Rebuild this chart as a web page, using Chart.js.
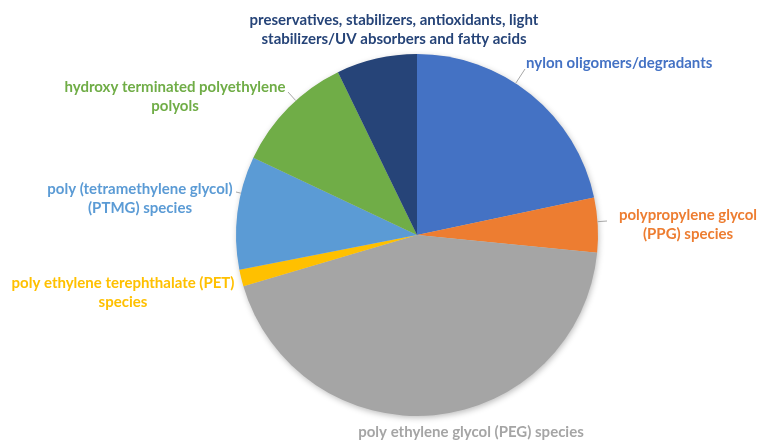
<!DOCTYPE html>
<html>
<head>
<meta charset="utf-8">
<script src="https://cdn.jsdelivr.net/npm/chart.js@4"></script>
<style>
  html, body { margin: 0; padding: 0; background: #ffffff; }
  #wrap { width: 759px; height: 440px; position: relative; }
</style>
</head>
<body>
<div id="wrap"><canvas id="c" width="759" height="440"></canvas></div>
<script>
const categories = [
  "nylon oligomers/degradants",
  "polypropylene glycol (PPG) species",
  "poly ethylene glycol (PEG) species",
  "poly ethylene terephthalate (PET) species",
  "poly (tetramethylene glycol) (PTMG) species",
  "hydroxy terminated polyethylene polyols",
  "preservatives, stabilizers, antioxidants, light stabilizers/UV absorbers and fatty acids"
];
const shares = [21.7, 4.9, 43.9, 1.5, 10.1, 10.8, 7.2];
const sliceColors = ["#4472C4", "#ED7D31", "#A5A5A5", "#FFC000", "#5B9BD5", "#70AD47", "#264478"];

// label text lines (as wrapped in the reference)
const labelLines = [
  ["nylon oligomers/degradants"],
  ["polypropylene glycol", "(PPG) species"],
  ["poly ethylene glycol (PEG) species"],
  ["poly ethylene terephthalate (PET)", "species"],
  ["poly (tetramethylene glycol)", "(PTMG) species"],
  ["hydroxy terminated polyethylene", "polyols"],
  ["preservatives, stabilizers, antioxidants, light", "stabilizers/UV absorbers and fatty acids"]
];

// label placement (layout only)
const labelLayout = [
  { x: 526, y: 63, align: "left", leader: [525, 69] },
  { x: 688, y: 215, align: "center", leader: [607, 221] },
  { x: 471, y: 432, align: "center", leader: null },
  { x: 123, y: 283, align: "center", leader: null },
  { x: 140, y: 189, align: "center", leader: [236, 192] },
  { x: 175, y: 87, align: "center", leader: [288, 92] },
  { x: 394, y: 20, align: "center", leader: null }
];
const lineHeight = 19.5;
const labelFont = "bold 15px Lato, 'Open Sans', sans-serif";

const shadowPlugin = {
  id: "pieShadow",
  beforeDatasetsDraw(chart) {
    const meta = chart.getDatasetMeta(0);
    if (!meta.data.length) return;
    const a = meta.data[0];
    const ctx = chart.ctx;
    ctx.save();
    ctx.shadowColor = "rgba(0,0,0,0.28)";
    ctx.shadowBlur = 6;
    ctx.shadowOffsetX = 1;
    ctx.shadowOffsetY = 2;
    ctx.fillStyle = "#cccccc";
    ctx.beginPath();
    ctx.arc(a.x, a.y, a.outerRadius - 0.5, 0, Math.PI * 2);
    ctx.fill();
    ctx.restore();
  }
};

const labelPlugin = {
  id: "outsideLabels",
  afterDatasetsDraw(chart) {
    const meta = chart.getDatasetMeta(0);
    const ctx = chart.ctx;
    ctx.save();
    meta.data.forEach((arc, i) => {
      const lay = labelLayout[i];
      const color = sliceColors[i];
      if (lay.leader) {
        const [lx, ly] = lay.leader;
        let ang = Math.atan2(ly - arc.y, lx - arc.x);
        let s = arc.startAngle, e = arc.endAngle;
        while (ang < s) ang += Math.PI * 2;
        while (ang > s + Math.PI * 2) ang -= Math.PI * 2;
        if (ang > e) {
          const dE = ang - e, dS = s + Math.PI * 2 - ang;
          ang = dE < dS ? e : s;
        }
        const ex = arc.x + Math.cos(ang) * arc.outerRadius;
        const ey = arc.y + Math.sin(ang) * arc.outerRadius;
        ctx.strokeStyle = "#A6A6A6";
        ctx.lineWidth = 1;
        ctx.beginPath();
        ctx.moveTo(lx, ly);
        ctx.lineTo(ex, ey);
        ctx.stroke();
      }
      ctx.fillStyle = color;
      ctx.font = labelFont;
      ctx.textAlign = lay.align;
      ctx.textBaseline = "middle";
      labelLines[i].forEach((t, k) => {
        ctx.fillText(t, lay.x, lay.y + k * lineHeight);
      });
    });
    ctx.restore();
  }
};

new Chart(document.getElementById("c"), {
  type: "pie",
  data: {
    labels: categories,
    datasets: [{
      data: shares,
      backgroundColor: sliceColors,
      borderWidth: 0
    }]
  },
  options: {
    responsive: false,
    animation: false,
    layout: { padding: { top: 54, bottom: 24, left: 236, right: 161 } },
    plugins: {
      legend: { display: false },
      tooltip: { enabled: false }
    }
  },
  plugins: [shadowPlugin, labelPlugin]
});
</script>
</body>
</html>
